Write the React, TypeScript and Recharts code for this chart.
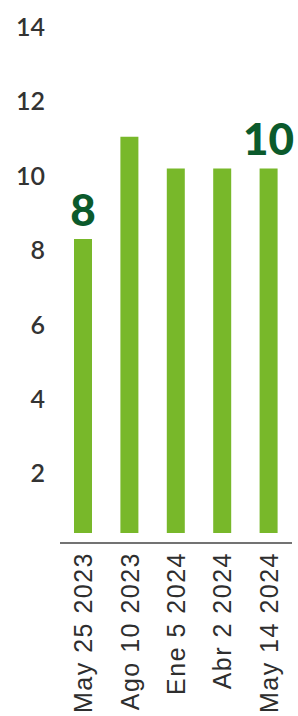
import { BarChart, Bar, XAxis, YAxis, LabelList, ReferenceLine } from "recharts";

const fechas = ["May 25 2023", "Ago 10 2023", "Ene 5 2024", "Abr 2 2024", "May 14 2024"];
const valores = [8.3, 11.05, 10.2, 10.2, 10.2];
const etiquetas = ["8", "", "", "", "10"];
const yTicks = [2, 4, 6, 8, 10, 12, 14];
const yDomain = [0.4, 14];

const data = fechas.map((fecha, i) => ({
  fecha,
  valor: valores[i],
  etiqueta: etiquetas[i],
}));

function YTick({ y, payload }: any) {
  return (
    <text
      x={45}
      y={y}
      textAnchor="end"
      dy="0.36em"
      fontFamily="Lato"
      fontSize={25}
      fontWeight={600}
      fill="#333"
    >
      {payload.value}
    </text>
  );
}

function XTick({ x, payload }: any) {
  return (
    <text
      x={x}
      y={552}
      transform={`rotate(-90, ${x}, 552)`}
      textAnchor="end"
      dy="0.36em"
      fontFamily="Liberation Sans"
      fontSize={25}
      letterSpacing={1.5}
      fill="#2e2e2e"
    >
      {payload.value}
    </text>
  );
}

export default function App() {
  return (
    <div style={{ position: "absolute", top: 0, left: 0, background: "#fff" }}>
      <BarChart
        width={298}
        height={716}
        data={data}
        margin={{ top: 27, right: 6, left: 0, bottom: 0 }}
      >
        <XAxis
          dataKey="fecha"
          height={183}
          axisLine={false}
          tickLine={false}
          interval={0}
          tick={<XTick />}
        />
        <YAxis
          width={60}
          domain={yDomain}
          ticks={yTicks}
          axisLine={false}
          tickLine={false}
          tick={<YTick />}
        />
        <ReferenceLine y={0.13} stroke="#444" strokeWidth={1.5} ifOverflow="visible" />
        <Bar dataKey="valor" fill="#78b82a" barSize={18} isAnimationActive={false}>
          <LabelList
            dataKey="etiqueta"
            position="top"
            offset={13}
            fill="#0b5a2c"
            fontSize={44}
            fontFamily="Lato"
            fontWeight={900}
          />
        </Bar>
      </BarChart>
    </div>
  );
}
